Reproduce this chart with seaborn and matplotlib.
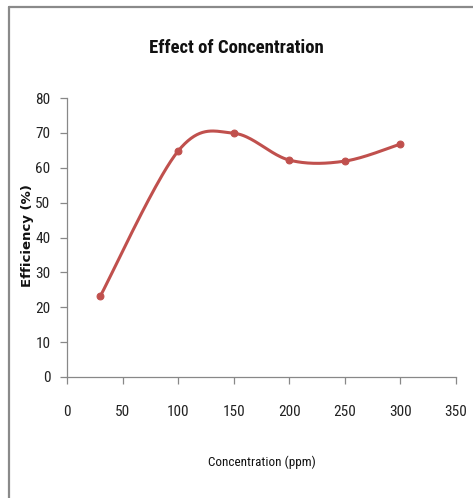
import numpy as np
import pandas as pd
import matplotlib
matplotlib.use("Agg")
import matplotlib.pyplot as plt
import seaborn as sns
from matplotlib import font_manager

concentration = [30, 100, 150, 200, 250, 300]
efficiency = [23.2, 64.8, 69.9, 62.2, 61.9, 66.8]
x_ticks = [0, 50, 100, 150, 200, 250, 300, 350]
y_ticks = [0, 10, 20, 30, 40, 50, 60, 70, 80]

sns.set_theme(style="white")
names = {f.name for f in font_manager.fontManager.ttflist}
narrow = "Liberation Sans Narrow" if "Liberation Sans Narrow" in names else "Roboto Condensed" if "Roboto Condensed" in names else "DejaVu Sans"
plt.rcParams['font.family'] = [narrow, 'DejaVu Sans']

def catmull_rom(xs, ys, n=40):
    pts = np.column_stack([xs, ys]).astype(float)
    P = np.vstack([pts[0], pts, pts[-1]])
    out = []
    for i in range(1, len(P) - 2):
        p0, p1, p2, p3 = P[i-1], P[i], P[i+1], P[i+2]
        c1 = p1 + (p2 - p0) / 6.0
        c2 = p2 - (p3 - p1) / 6.0
        t = np.linspace(0, 1, n)[:, None]
        seg = ((1-t)**3)*p1 + 3*((1-t)**2)*t*c1 + 3*(1-t)*t**2*c2 + t**3*p2
        out.append(seg if i == 1 else seg[1:])
    return np.vstack(out)

df = pd.DataFrame({"Concentration": concentration, "Efficiency": efficiency})
curve = catmull_rom(df["Concentration"].values, df["Efficiency"].values)
cdf = pd.DataFrame({"x": curve[:, 0], "y": curve[:, 1]})

fig = plt.figure(figsize=(4.73, 4.98), dpi=100)
ax = fig.add_axes([67/473, 1-377/498, (456-67)/473, (377-98)/498])

red = "#C0504D"
sns.lineplot(data=cdf, x="x", y="y", sort=False, estimator=None, ax=ax, color=red, linewidth=2.2)
sns.scatterplot(data=df, x="Concentration", y="Efficiency", ax=ax, color=red, marker="o", s=24,
                edgecolor=red, linewidth=0.8, zorder=5)

ax.set_xlim(0, 350)
ax.set_ylim(0, 80)
ax.set_xticks(x_ticks)
ax.set_yticks(y_ticks)
ax.set_xticklabels([str(v) for v in x_ticks], fontsize=11, color="#222222")
ax.set_yticklabels([str(v) for v in y_ticks], fontsize=11, color="#222222")
for s in ["top", "right"]:
    ax.spines[s].set_visible(False)
for s in ["left", "bottom"]:
    ax.spines[s].set_color("#888888")
    ax.spines[s].set_linewidth(0.9)
ax.tick_params(axis="both", which="major", direction="out", length=5, width=0.9, color="#888888",
               left=True, bottom=True)
ax.tick_params(axis="y", pad=7)
ax.tick_params(axis="x", pad=15)
ax.set_xlabel("Concentration (ppm)", fontsize=9.5, color="#111111")
ax.xaxis.set_label_coords(0.5, (377-462)/279)
ax.xaxis.label.set_va("center")
ax.set_ylabel("Efficiency (%)", fontsize=9.5, fontweight="bold", family=["DejaVu Sans"], color="#111111")
ax.yaxis.set_label_coords((28-67)/389, (377-236)/279)
ax.yaxis.label.set_va("center")
fig.text(0.5, 1-48/498, "Effect of Concentration", ha="center", va="center", fontsize=13.5,
         fontweight="bold", color="#111111")

fig.add_artist(plt.Line2D([9/473, 1.0], [1-7/498, 1-7/498], transform=fig.transFigure, color="#8a8a8a", linewidth=1.6))
fig.add_artist(plt.Line2D([9/473, 9/473], [0.0, 1-7/498], transform=fig.transFigure, color="#8a8a8a", linewidth=1.6))

fig.savefig("out.png", dpi=100)
